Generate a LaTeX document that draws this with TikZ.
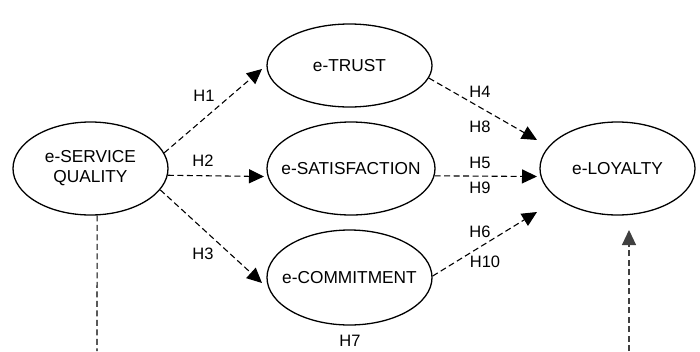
\documentclass[tikz,border=0pt]{standalone}
\usepackage{fontspec}
\setmainfont{Liberation Sans}
\usetikzlibrary{shapes.geometric,arrows.meta}
\begin{document}
\begin{tikzpicture}[x=1pt,y=-1pt,
  construct/.style={draw,ellipse,line width=1.3pt,inner sep=0pt,
    label={[font=\fontsize{17.3}{20}\selectfont,align=center]center:#1}},
  link/.style={line width=1.1pt,dash pattern=on 6pt off 3.5pt,-{Triangle[length=15pt,width=14pt]}},
  plainlink/.style={line width=1.1pt,dash pattern=on 6pt off 3.5pt},
  hlab/.style={font=\fontsize{16.5}{18}\selectfont,inner sep=0pt}]
\useasboundingbox (0,0) rectangle (700,351);
\node[construct={e-SERVICE\\QUALITY},minimum width=155pt,minimum height=93pt] (sq) at (90.5,168.5) {};
\node[construct={e-TRUST},minimum width=165pt,minimum height=83pt] (tr) at (349.5,65.5) {};
\node[construct={e-SATISFACTION},minimum width=168pt,minimum height=93pt] (sa) at (351,168.5) {};
\node[construct={e-COMMITMENT},minimum width=165pt,minimum height=95pt] (co) at (349.5,277.5) {};
\node[construct={e-LOYALTY},minimum width=155pt,minimum height=93pt] (lo) at (617.5,168.5) {};
\coordinate (t1) at (262,69);
\coordinate (t2) at (264,176.5);
\coordinate (t3) at (262,283);
\coordinate (t4) at (537,140);
\coordinate (t5) at (537,176.5);
\coordinate (t6) at (537,212);
\coordinate (b1) at (97,351);
\coordinate (b2) at (629,351);
\coordinate (t7) at (629,230);
\draw[link] (sq.12) -- (t1);
\draw[link] (sq.-5) -- (t2);
\draw[link] (sq.-17) -- (t3);
\draw[link] (tr.-9) -- (t4);
\draw[link] (sa.-5) -- (t5);
\draw[link] (co.1) -- (t6);
\draw[plainlink] (sq.-82) -- (b1);
\draw[link,black!75] (b2) -- (t7);
\node[hlab] (h1) at (204,96) {H1};
\node[hlab] (h2) at (203,161) {H2};
\node[hlab] (h3) at (203,254) {H3};
\node[hlab] (h4) at (480,92) {H4};
\node[hlab] (h8) at (480,127) {H8};
\node[hlab] (h5) at (480,163) {H5};
\node[hlab] (h9) at (480,188) {H9};
\node[hlab] (h6) at (480,232) {H6};
\node[hlab] (h10) at (485,262) {H10};
\node[hlab] (h7) at (350,341) {H7};
\end{tikzpicture}
\end{document}
